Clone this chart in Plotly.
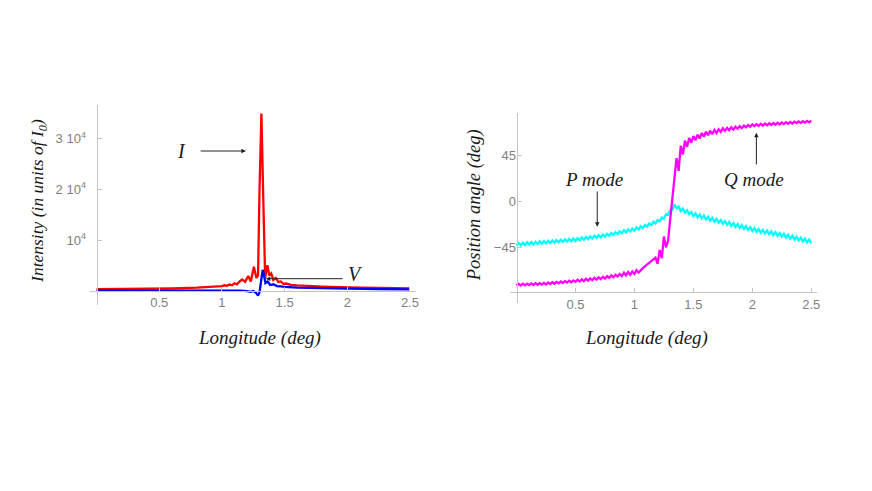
import numpy as np
import plotly.graph_objects as go

# ---------------- data: left panel (intensity) ----------------
lon_i = [0, 0.2, 0.4, 0.6, 0.8, 0.9, 1.0, 1.02, 1.04, 1.06, 1.08, 1.10, 1.12, 1.14, 1.16, 1.185,
         1.21, 1.23, 1.255, 1.275, 1.288, 1.30, 1.315, 1.33, 1.345, 1.362, 1.378, 1.393, 1.41,
         1.43, 1.45, 1.47, 1.49, 1.51, 1.55, 1.6, 1.7, 1.8, 2.0, 2.25, 2.5]
stokes_i = [300, 330, 380, 450, 600, 720, 900, 1050, 950, 1200, 1050, 1450, 1250, 1800, 2200, 1750,
            2900, 1800, 4700, 2500, 3000, 20000, 35000, 18000, 2500, 5000, 3000, 3400, 2100,
            2500, 1700, 1800, 1350, 1400, 1150, 1050, 900, 780, 620, 500, 420]

lon_v = [0, 0.5, 1.0, 1.1, 1.15, 1.2, 1.23, 1.25, 1.27, 1.288, 1.30, 1.312, 1.325, 1.336, 1.347,
         1.365, 1.385, 1.41, 1.44, 1.47, 1.5, 1.6, 1.8, 2.0, 2.25, 2.5]
stokes_v = [30, 60, 100, 80, 0, -100, -250, -80, -400, -1000, -300, 1800, 4100, 3000, 1500,
            1800, 1100, 1250, 900, 850, 750, 600, 450, 380, 300, 250]

i_ticks = [10000, 20000, 30000]
i_ticktext = ["10<sup>4</sup>", "2 10<sup>4</sup>", "3 10<sup>4</sup>"]

# ---------------- data: right panel (position angle) ----------------
lon_pa = np.linspace(0, 2.5, 141)
pa_p_mode = [-42.7, -40.2, -42.4, -39.9, -42.1, -39.6, -41.8, -39.3, -41.6, -39.0, -41.3, -38.7, -41.0, -38.4, -40.7,
             -38.1, -40.3, -37.8, -40.0, -37.4, -39.6, -37.1, -39.3, -36.7, -38.9, -36.3, -38.6, -36.0, -38.2,
             -35.5, -37.6, -34.9, -37.1, -34.4, -36.5, -33.8, -35.9, -33.2, -35.3, -32.7, -34.8, -32.1, -34.2,
             -31.4, -33.3, -30.5, -32.5, -29.7, -31.6, -28.8, -30.8, -27.9, -29.9, -27.1, -29.1, -26.2, -28.2,
             -25.2, -27.0, -23.9, -25.7, -22.7, -24.4, -21.2, -22.8, -19.6, -21.2, -18.0, -19.2, -15.5, -16.7,
             -12.3, -12.8, -8.4, -7.9, -2.6, -6.4, -4.5, -9.1, -6.7, -10.7, -8.3, -12.3, -10.1, -14.1,
             -11.4, -15.2, -12.5, -16.2, -13.6, -17.3, -14.7, -18.4, -15.7, -19.5, -16.8, -20.5, -17.9, -21.6,
             -18.9, -22.6, -19.9, -23.6, -20.9, -24.6, -21.9, -25.6, -22.9, -26.6, -23.9, -27.6, -24.9, -28.6,
             -25.8, -29.4, -26.6, -30.2, -27.4, -31.0, -28.2, -31.7, -28.9, -32.5, -29.7, -33.3, -30.5, -34.1,
             -31.4, -35.0, -32.3, -36.0, -33.2, -36.9, -34.2, -37.8, -35.1, -38.7, -36.0, -39.7, -36.9, -40.6]
pa_q_mode = [-81.8, -80.1, -81.6, -79.9, -81.5, -79.8, -81.3, -79.6, -81.1, -79.4, -80.9, -79.3, -80.8, -79.1, -80.6,
             -78.8, -80.2, -78.5, -79.9, -78.1, -79.5, -77.8, -79.2, -77.4, -78.8, -77.0, -78.5, -76.7, -78.1,
             -76.1, -77.8, -75.6, -77.4, -75.1, -76.9, -74.7, -76.4, -74.2, -75.9, -73.7, -75.5, -73.2, -75.0,
             -72.6, -74.3, -71.9, -73.6, -71.2, -72.9, -70.5, -72.6, -69.3, -71.9, -68.6, -71.2, -67.9, -70.5,
             -66.8, -69.1, -66.5, -64.8, -63.1, -61.4, -59.6, -57.9, -56.2, -54.5, -60.5, -47.0, -55.0, -34.0,
             -44.5, -38.0, -17.0, 4.0, 24.0, 42.5, 30.0, 54.5, 46.0, 59.5, 53.5, 62.0, 57.5, 64.0,
             59.9, 65.4, 61.6, 66.9, 63.3, 68.2, 64.8, 69.0, 65.8, 69.8, 66.9, 70.6, 68.0, 71.5,
             69.0, 71.9, 69.6, 72.4, 70.3, 73.0, 71.0, 73.6, 71.7, 74.1, 72.4, 74.7, 73.0, 75.3,
             73.5, 75.5, 73.8, 75.8, 74.1, 76.1, 74.4, 76.3, 74.7, 76.6, 75.0, 76.9, 75.3, 77.2,
             75.6, 77.4, 75.9, 77.6, 76.2, 77.9, 76.5, 78.2, 76.7, 78.5, 77.0, 78.7, 77.3, 79.0]
pa_ticks = [-45, 0, 45]
lon_ticks = [0.5, 1, 1.5, 2, 2.5]
lon_ticktext = ["0.5", "1", "1.5", "2", "2.5"]

# page has an 8px body margin, so the figure is drawn 8px in from the window edge
OFF = 8
W, H = 872 - 2 * OFF, 491 - 2 * OFF
def px(x):
    return (x - OFF) / W
def py(y):
    return 1 - (y - OFF) / H

AXIS_COL = "#c4c4c4"
TICK_FONT = dict(family="Liberation Sans, Arial, sans-serif", size=13, color="#808080")
SERIF = "Liberation Serif, Times New Roman, serif"
LW = 2.3

fig = go.Figure()
fig.add_trace(go.Scatter(x=lon_i, y=stokes_i, mode="lines", line=dict(color="#ff0000", width=LW),
                         xaxis="x", yaxis="y", showlegend=False))
fig.add_trace(go.Scatter(x=lon_v, y=stokes_v, mode="lines", line=dict(color="#0000ff", width=LW),
                         xaxis="x", yaxis="y", showlegend=False))
fig.add_trace(go.Scatter(x=lon_pa, y=pa_p_mode, mode="lines", line=dict(color="#00ffff", width=LW),
                         xaxis="x2", yaxis="y2", showlegend=False))
fig.add_trace(go.Scatter(x=lon_pa, y=pa_q_mode, mode="lines", line=dict(color="#ff00ff", width=LW),
                         xaxis="x2", yaxis="y2", showlegend=False))

common = dict(showgrid=False, zeroline=False, showline=True, linecolor=AXIS_COL, linewidth=1,
              ticks="inside", ticklen=4, tickcolor=AXIS_COL, tickfont=TICK_FONT)

fig.update_layout(
    width=W, height=H, margin=dict(l=0, r=0, t=0, b=0),
    paper_bgcolor="white", plot_bgcolor="white",
    xaxis=dict(domain=[px(90), px(417)], range=[-0.055, 2.545], anchor="free", position=py(290.6),
               tickvals=lon_ticks, ticktext=lon_ticktext, **common),
    yaxis=dict(domain=[py(305), py(105)], range=[-2846, 36680], anchor="free", position=px(96.9),
               tickvals=i_ticks, ticktext=i_ticktext, ticklabelstandoff=8, **common),
    xaxis2=dict(domain=[px(511.7), px(820)], range=[-0.056, 2.55], anchor="free", position=py(292.3),
                tickvals=lon_ticks, ticktext=lon_ticktext, **common),
    yaxis2=dict(domain=[py(303.3), py(112.7)], range=[-99.0, 86.7], anchor="free", position=px(518.3),
                tickvals=pa_ticks, ticklabelstandoff=-2, **common),
)

def label(text, x, y, size=18, angle=0):
    fig.add_annotation(text=text, x=px(x), y=py(y), xref="paper", yref="paper", showarrow=False,
                       xanchor="center", yanchor="middle", textangle=angle,
                       font=dict(family=SERIF, size=size, color="#1a1a1a"))

def arrow(hx, hy, tx, ty):
    fig.add_annotation(text="", x=px(hx), y=py(hy), xref="paper", yref="paper",
                       ax=tx - hx, ay=ty - hy, axref="pixel", ayref="pixel",
                       showarrow=True, arrowhead=2, arrowsize=0.9, arrowwidth=1, arrowcolor="#222")

label("<i>Intensity (in units of I<sub>0</sub>)</i>", 38, 201, size=17.5, angle=-90)
label("<i>Longitude (deg)</i>", 260, 338.3, size=19)
label("<i>Position angle (deg)</i>", 476, 205, size=18.5, angle=-90)
label("<i>Longitude (deg)</i>", 648.3, 338.3, size=19)
label("<i>I</i>", 181.7, 151, size=20)
label("<i>V</i>", 356.7, 274.3, size=20)
label("<i>P mode</i>", 596, 179.3, size=19)
label("<i>Q mode</i>", 756.7, 179.3, size=19)
arrow(246.7, 151, 200, 151)
arrow(266.7, 278.7, 345, 278.7)
arrow(599.3, 226.7, 599.3, 190)
arrow(759, 132.7, 759, 166)

fig.write_html("out.html")
